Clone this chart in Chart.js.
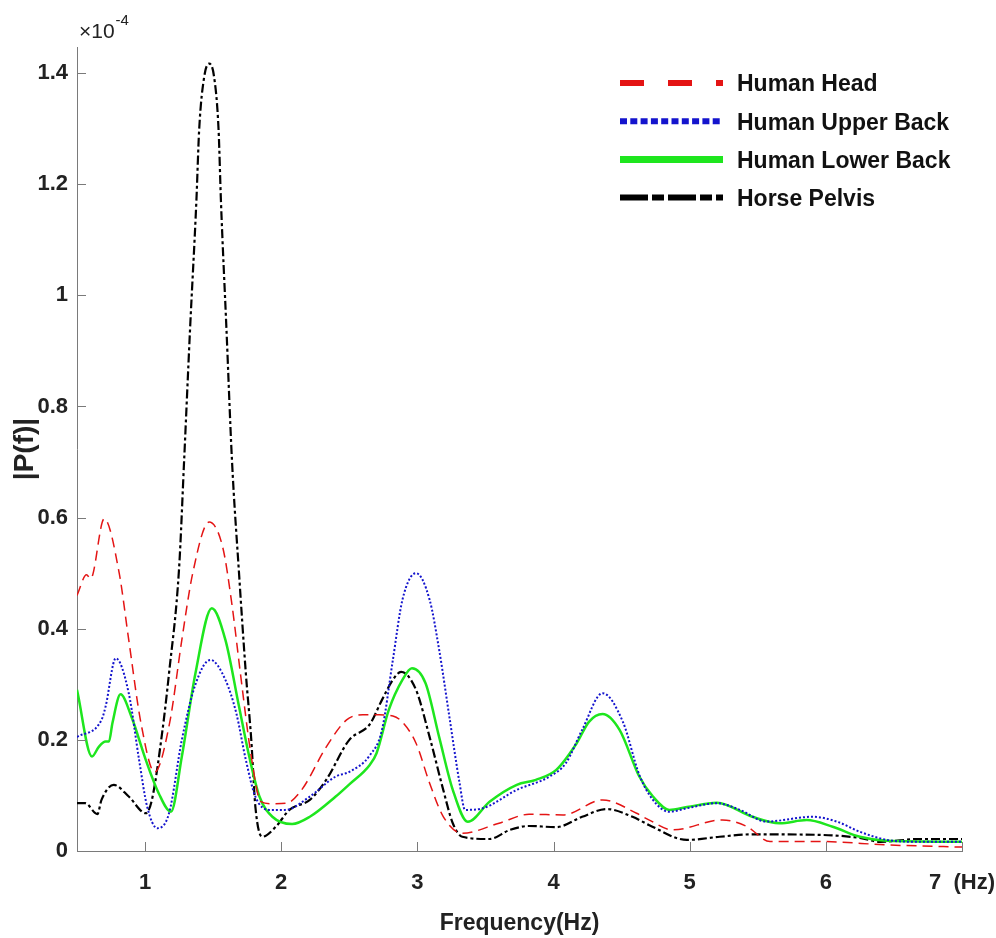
<!DOCTYPE html>
<html>
<head>
<meta charset="utf-8">
<script src="https://cdn.jsdelivr.net/npm/chart.js@4.4.0/dist/chart.umd.min.js"></script>
<style>
  body { margin: 0; background: #fff; }
  #wrap { width: 996px; height: 938px; }
</style>
</head>
<body>
<div id="wrap"><canvas id="chart1" width="996" height="938"></canvas></div>
<script>
// values are |P(f)| in units of 1e-4
let seriesNames = ["Human Head", "Human Upper Back", "Human Lower Back", "Horse Pelvis"];

let headFreq = [0.5, 0.57, 0.6, 0.7, 0.81, 0.88, 0.97, 1.07, 1.18, 1.27, 1.35, 1.47, 1.57, 1.64, 1.7, 1.78, 1.85, 1.95, 2.04, 2.15, 2.33, 2.48, 2.6, 2.72, 2.82, 2.89, 2.99, 3.09, 3.19, 3.33, 3.6, 3.82, 4.07, 4.36, 4.61, 4.7, 4.875, 5.24, 5.42, 5.59, 5.96, 6.45, 7.0];
let headValues = [0.46, 0.497, 0.49, 0.598, 0.5, 0.38, 0.23, 0.142, 0.23, 0.38, 0.5, 0.592, 0.547, 0.44, 0.32, 0.17, 0.089, 0.085, 0.086, 0.11, 0.187, 0.236, 0.245, 0.245, 0.243, 0.232, 0.194, 0.122, 0.062, 0.032, 0.05, 0.066, 0.065, 0.092, 0.068, 0.056, 0.038, 0.056, 0.044, 0.017, 0.017, 0.011, 0.007];

let upperFreq = [0.5, 0.68, 0.71, 0.785, 0.88, 0.956, 1.015, 1.09, 1.176, 1.27, 1.37, 1.48, 1.59, 1.67, 1.74, 1.81, 1.91, 2.03, 2.21, 2.4, 2.5, 2.65, 2.74, 2.82, 2.89, 2.99, 3.09, 3.16, 3.235, 3.31, 3.35, 3.48, 3.73, 3.97, 4.09, 4.21, 4.36, 4.51, 4.63, 4.73, 4.85, 4.98, 5.2, 5.37, 5.56, 5.905, 6.08, 6.25, 6.45, 6.69, 7.0];
let upperValues = [0.205, 0.236, 0.26, 0.347, 0.284, 0.164, 0.08, 0.041, 0.068, 0.2, 0.3, 0.344, 0.308, 0.248, 0.164, 0.098, 0.074, 0.074, 0.098, 0.134, 0.1425, 0.172, 0.218, 0.344, 0.452, 0.5, 0.452, 0.362, 0.2415, 0.122, 0.074, 0.077, 0.11, 0.134, 0.158, 0.218, 0.284, 0.232, 0.137, 0.092, 0.0706, 0.077, 0.086, 0.074, 0.053, 0.0616, 0.053, 0.0346, 0.02, 0.0166, 0.0166];

let lowerFreq = [0.5, 0.61, 0.66, 0.71, 0.735, 0.76, 0.82, 0.9, 1.005, 1.1, 1.19, 1.27, 1.37, 1.49, 1.59, 1.69, 1.765, 1.84, 1.935, 2.08, 2.21, 2.4, 2.5, 2.65, 2.7, 2.79, 2.89, 2.96, 3.06, 3.16, 3.26, 3.37, 3.53, 3.73, 3.87, 4.02, 4.17, 4.26, 4.36, 4.485, 4.63, 4.73, 4.85, 4.98, 5.2, 5.46, 5.66, 5.86, 6.05, 6.25, 6.45, 7.0];
let lowerValues = [0.29, 0.17, 0.1875, 0.197, 0.197, 0.23, 0.282, 0.2415, 0.164, 0.104, 0.0706, 0.17, 0.32, 0.437, 0.38, 0.26, 0.17, 0.098, 0.0616, 0.0485, 0.0616, 0.098, 0.12, 0.155, 0.176, 0.254, 0.308, 0.329, 0.302, 0.205, 0.11, 0.0526, 0.0886, 0.119, 0.128, 0.146, 0.194, 0.2325, 0.2465, 0.218, 0.134, 0.098, 0.074, 0.079, 0.0868, 0.0616, 0.05, 0.0556, 0.0436, 0.0256, 0.0184, 0.0166];

let pelvisFreq = [0.5, 0.56, 0.65, 0.68, 0.77, 0.88, 1.005, 1.05, 1.125, 1.176, 1.25, 1.287, 1.33, 1.377, 1.397, 1.434, 1.47, 1.507, 1.54, 1.557, 1.598, 1.638, 1.69, 1.74, 1.78, 1.81, 1.86, 1.96, 2.06, 2.21, 2.33, 2.5, 2.65, 2.74, 2.82, 2.88, 2.99, 3.09, 3.19, 3.26, 3.33, 3.53, 3.68, 3.82, 4.02, 4.21, 4.39, 4.58, 4.7, 4.98, 5.22, 5.46, 5.96, 6.25, 6.4, 6.69, 7.0];
let pelvisValues = [0.086, 0.086, 0.0665, 0.092, 0.119, 0.098, 0.068, 0.092, 0.212, 0.32, 0.51, 0.704, 0.9375, 1.171, 1.297, 1.393, 1.417, 1.393, 1.297, 1.171, 0.9375, 0.704, 0.5, 0.32, 0.2, 0.08, 0.0256, 0.0436, 0.074, 0.092, 0.128, 0.2, 0.228, 0.272, 0.308, 0.3225, 0.29, 0.205, 0.11, 0.05, 0.0256, 0.0216, 0.038, 0.045, 0.043, 0.0616, 0.0755, 0.0616, 0.047, 0.02, 0.0256, 0.03, 0.029, 0.0236, 0.0166, 0.0216, 0.0216];

let xTickValues = [1, 2, 3, 4, 5, 6, 7];
let yTickValues = [0, 0.2, 0.4, 0.6, 0.8, 1, 1.2, 1.4];

let lineColors = ["rgb(228,20,20)", "rgb(20,20,205)", "rgb(30,230,30)", "rgb(0,0,0)"];
let lineDashes = [[10, 6], [2, 2], [], [9, 3, 3, 3]];
let legendDashes = [[24, 24], [7, 3.3], [], [28, 4, 12, 4]];

const narrow = "'Liberation Sans', Arial, sans-serif";

function pts(xs, ys) {
  return xs.map((x, i) => ({x: x, y: ys[i]}));
}

const innerTicks = {
  id: 'innerTicks',
  afterDraw(chart) {
    const ctx = chart.ctx;
    const area = chart.chartArea;
    const x = chart.scales.x, y = chart.scales.y;
    ctx.save();
    ctx.strokeStyle = '#7a7a7a';
    ctx.lineWidth = 1;
    ctx.beginPath();
    x.ticks.forEach(t => {
      const px = Math.round(x.getPixelForValue(t.value)) + 0.5;
      ctx.moveTo(px, area.bottom);
      ctx.lineTo(px, area.bottom - 9);
    });
    y.ticks.forEach(t => {
      const py = Math.round(y.getPixelForValue(t.value)) + 0.5;
      ctx.moveTo(area.left, py);
      ctx.lineTo(area.left + 9, py);
    });
    ctx.stroke();

    // exponent label
    ctx.fillStyle = '#222';
    ctx.textBaseline = 'alphabetic';
    ctx.font = "21px " + narrow;
    ctx.fillText('\u00d710', area.left + 2, 38);
    const w = ctx.measureText('\u00d710').width;
    ctx.font = "15px " + narrow;
    ctx.fillText('-4', area.left + 3 + w, 25);

    // legend inside the axes
    const dsets = chart.data.datasets;
    dsets.forEach((ds, i) => {
      const ly = 83 + i * 38.2;
      ctx.save();
      ctx.strokeStyle = ds.borderColor;
      ctx.lineWidth = i === 2 ? 7 : 6;
      ctx.setLineDash(legendDashes[i]);
      ctx.beginPath();
      ctx.moveTo(620, ly);
      ctx.lineTo(723, ly);
      ctx.stroke();
      ctx.restore();
      ctx.fillStyle = '#111';
      ctx.font = "bold 23px " + narrow;
      ctx.textBaseline = 'middle';
      ctx.fillText(ds.label, 737, ly + 2);
    });
    ctx.restore();
  }
};

new Chart("chart1", {
  type: "line",
  data: {
    datasets: [
      {label: seriesNames[0], data: pts(headFreq, headValues), borderColor: lineColors[0], borderWidth: 1.5, borderDash: lineDashes[0]},
      {label: seriesNames[1], data: pts(upperFreq, upperValues), borderColor: lineColors[1], borderWidth: 2, borderDash: lineDashes[1]},
      {label: seriesNames[2], data: pts(lowerFreq, lowerValues), borderColor: lineColors[2], borderWidth: 2.5, borderDash: lineDashes[2]},
      {label: seriesNames[3], data: pts(pelvisFreq, pelvisValues), borderColor: lineColors[3], borderWidth: 2.2, borderDash: lineDashes[3]}
    ].map(ds => Object.assign(ds, {pointRadius: 0, fill: false, cubicInterpolationMode: 'monotone'}))
  },
  options: {
    responsive: false,
    animation: false,
    layout: { padding: { top: 47, right: 34, left: 0, bottom: 0 } },
    plugins: {
      legend: { display: false },
      tooltip: { enabled: false }
    },
    scales: {
      x: {
        type: 'linear',
        min: 0.5,
        max: 7,
        afterBuildTicks: s => { s.ticks = xTickValues.map(v => ({value: v})); },
        afterFit: s => { s.height = 87; s.paddingLeft = 0; s.paddingRight = 0; },
        grid: { display: false, drawTicks: false },
        border: { display: true, color: '#7a7a7a', width: 1 },
        ticks: {
          padding: 19,
          color: '#222',
          maxRotation: 0,
          font: { family: narrow, size: 22, weight: 'bold' },
          callback: v => v === 7 ? '7  (Hz)' : String(v)
        },
        title: {
          display: true,
          text: 'Frequency(Hz)',
          color: '#222',
          font: { family: narrow, size: 23, weight: 'bold' },
          padding: { top: 0, bottom: 1 }
        }
      },
      y: {
        min: 0,
        max: 1.447,
        afterBuildTicks: s => { s.ticks = yTickValues.map(v => ({value: v})); },
        afterFit: s => { s.width = 77; },
        grid: { display: false, drawTicks: false },
        border: { display: true, color: '#7a7a7a', width: 1 },
        ticks: {
          padding: 9,
          color: '#222',
          font: { family: narrow, size: 22, weight: 'bold' },
          callback: v => String(parseFloat(v.toFixed(1)))
        },
        title: {
          display: true,
          text: '|P(f)|',
          color: '#222',
          font: { family: narrow, size: 28, weight: 'bold' },
          padding: { top: 8, bottom: 0 }
        }
      }
    }
  },
  plugins: [innerTicks]
});
</script>
</body>
</html>
